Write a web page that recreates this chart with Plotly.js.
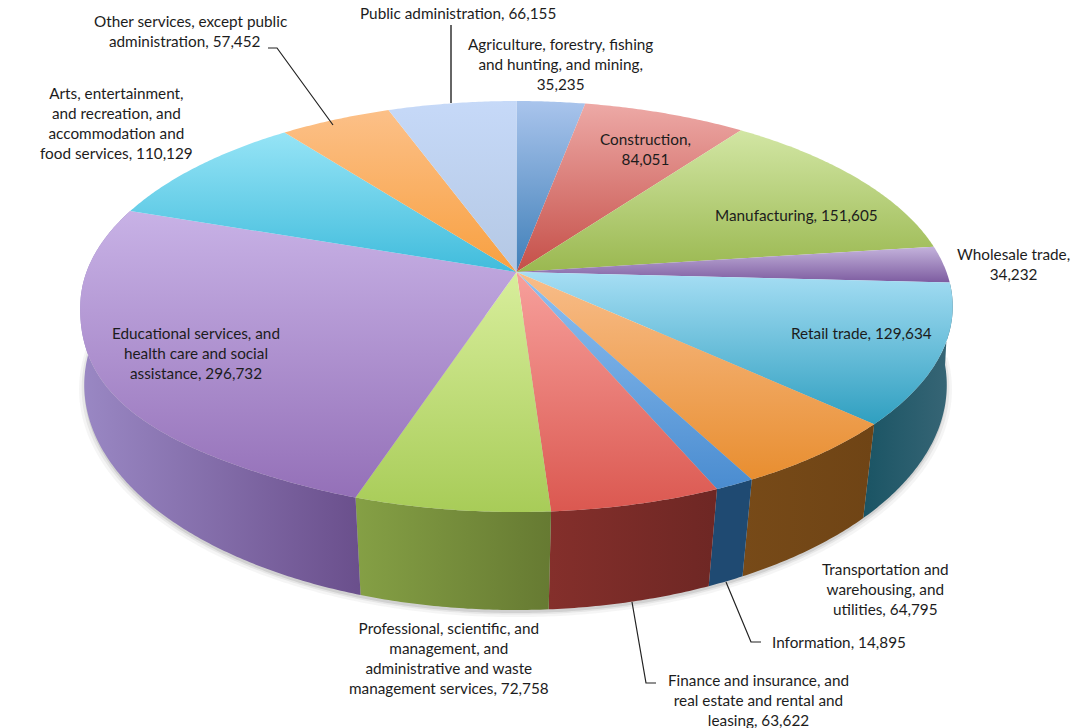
<!DOCTYPE html>
<html>
<head>
<meta charset="utf-8">
<script src="https://cdn.plot.ly/plotly-3.0.1.min.js"></script>
<style>html,body{margin:0;padding:0;background:#fff;}#chart{width:1079px;height:728px;}</style>
</head>
<body>
<div id="chart"></div>
<script>
// ---- data ----
const categories = [
  "Agriculture, forestry, fishing<br>and hunting, and mining,",
  "Construction,",
  "Manufacturing,",
  "Wholesale trade,",
  "Retail trade,",
  "Transportation and<br>warehousing, and<br>utilities,",
  "Information,",
  "Finance and insurance, and<br>real estate and rental and<br>leasing,",
  "Professional, scientific, and<br>management, and<br>administrative and waste<br>management services,",
  "Educational services, and<br>health care and social<br>assistance,",
  "Arts, entertainment,<br>and recreation, and<br>accommodation and<br>food services,",
  "Other services, except public<br>administration,",
  "Public administration,"
];
const values = [35235, 84051, 151605, 34232, 129634, 64795, 14895, 63622, 72758, 296732, 110129, 57452, 66155];
const valueBreaks = ["<br>", "<br>", " ", "<br>", " ", " ", " ", " ", " ", " ", " ", " ", " "];
const labelTails = ["", "", "", "", "", "", "", "", "", "", "", "&nbsp;&nbsp;&nbsp;", ""];

// ---- style: top-surface gradient (far edge, near edge) ----
const topLight = ["#a9c4ec","#eda9a6","#d2e6a4","#c4b3dc","#a6def4","#f8bd8a","#8fc0f0","#f7a09c","#d8ee9c","#c8b2e6","#96e4f6","#fcc088","#c6d9f8"];
const topDark  = ["#3f7fb8","#c54f48","#9ab850","#7d5ca0","#2f9fc0","#e88e30","#4a8cd0","#db5850","#a8cc58","#9470b8","#40bcdc","#f8a040","#b4c8e4"];
// ---- style: wall gradient (left, right), only front slices have a visible wall ----
const wallLeft  = [null,null,null,null,"#1a5464","#774a18","#1f4a72","#842f2b","#85a045","#9a88c4",null,null,null];
const wallRight = [null,null,null,null,"#386676","#6f4415","#1f4a72","#6e2724","#667a32","#6a4f8c",null,null,null];

// ---- style: label positions (centre of each text block) ----
const labelX = [560, 645, 796, 1013, 861, 885, 839, 758, 449, 196, 116, 190, 458];
const labelY = [64, 149, 215, 264, 333, 589, 642, 700, 658, 353, 123, 31, 13];

// ---- style: leader lines ----
const leaderX = [[451,451],[268,277,333],[726,751,761],[632,646,656]];
const leaderY = [[25,103],[48,48,125],[582,642,642],[602,683,683]];
const leaderColor = ["#666666","#222222","#222222","#222222"];
const leaderWidth = [2,1.2,1.2,1.2];

// ---- perspective disc projection: top face and floor of the disc ----
const topFace = {cx:516.5, cy:272, A:430, B:199.7, K:0.168, bulge:0.018, bulgeFrom:205, bulgeTo:262};
const floorFace = {cx:515.5, cy:353.5, A:427, B:220.6, K:0.14, bulge:0, bulgeFrom:0, bulgeTo:1};
function project(deg, f, grow, dy) {
  const t = deg * Math.PI / 180, s = Math.sin(t), c = Math.cos(t), w = 1 + f.K * c;
  let g = grow;
  if (deg > f.bulgeFrom && deg < f.bulgeTo) {
    g *= 1 + f.bulge * Math.pow(Math.sin(Math.PI * (deg - f.bulgeFrom) / (f.bulgeTo - f.bulgeFrom)), 2);
  }
  return [f.cx + g * f.A * s / w, f.cy + dy - g * f.B * c / w];
}
function arc(a0, a1, f, grow, dy) {
  const n = Math.max(2, Math.ceil(Math.abs(a1 - a0) * 2)), pts = [];
  for (let i = 0; i <= n; i++) pts.push(project(a0 + (a1 - a0) * i / n, f, grow || 1, dy || 0));
  return pts;
}
function polyTrace(pts, orient, c0, c1) {
  const xs = pts.map(p => p[0]), ys = pts.map(p => p[1]);
  const v = orient === "vertical" ? ys : xs;
  return {
    type: "scatter", mode: "none", x: xs.concat(xs[0]), y: ys.concat(ys[0]),
    fill: "toself", hoverinfo: "skip", showlegend: false,
    fillgradient: {
      type: orient, start: Math.min(...v), stop: Math.max(...v),
      colorscale: [[0, c0], [1, c1]]
    }
  };
}

const total = values.reduce((a, b) => a + b, 0);
const starts = [], ends = [];
values.reduce((acc, v, i) => {
  starts[i] = acc / total * 360;
  ends[i] = (acc + v) / total * 360;
  return acc + v;
}, 0);

const traces = [];
// soft shadow under the wall
[[1.012, 4, 0.05], [1.006, 3, 0.08], [1.0, 3, 0.12]].forEach(s => {
  const pts = arc(90, 290, floorFace, s[0], s[1]);
  traces.push({type:"scatter", mode:"none", x:pts.map(p=>p[0]), y:pts.map(p=>p[1]),
    fill:"toself", fillcolor:`rgba(60,60,60,${s[2]})`, hoverinfo:"skip", showlegend:false});
});
// walls
values.forEach((v, i) => {
  if (!wallLeft[i]) return;
  const top = arc(starts[i], ends[i], topFace);
  const low = arc(ends[i], starts[i], floorFace);
  traces.push(polyTrace(top.concat(low), "horizontal", wallLeft[i], wallRight[i]));
});
// top surface
values.forEach((v, i) => {
  const pts = [[topFace.cx, topFace.cy]].concat(arc(starts[i], ends[i], topFace));
  traces.push(polyTrace(pts, "vertical", topLight[i], topDark[i]));
});
// leaders
leaderX.forEach((lx, i) => traces.push({
  type:"scatter", mode:"lines", x:lx, y:leaderY[i], hoverinfo:"skip", showlegend:false,
  line:{color:leaderColor[i], width:leaderWidth[i]}
}));

const annotations = categories.map((c, i) => ({
  x: labelX[i], y: labelY[i], xref:"x", yref:"y", showarrow:false,
  xanchor:"center", yanchor:"middle", align:"center",
  text: c + valueBreaks[i] + values[i].toLocaleString("en-US") + labelTails[i],
  font:{family:"Lato, 'Open Sans', sans-serif", size:15.3, color:"#1c1c1c"}
}));

Plotly.newPlot("chart", traces, {
  width:1079, height:728, margin:{l:0,r:0,t:0,b:0},
  paper_bgcolor:"#ffffff", plot_bgcolor:"#ffffff", showlegend:false,
  xaxis:{range:[0,1079], visible:false, fixedrange:true},
  yaxis:{range:[728,0], visible:false, fixedrange:true},
  annotations
}, {displayModeBar:false, staticPlot:true});
</script>
</body>
</html>
